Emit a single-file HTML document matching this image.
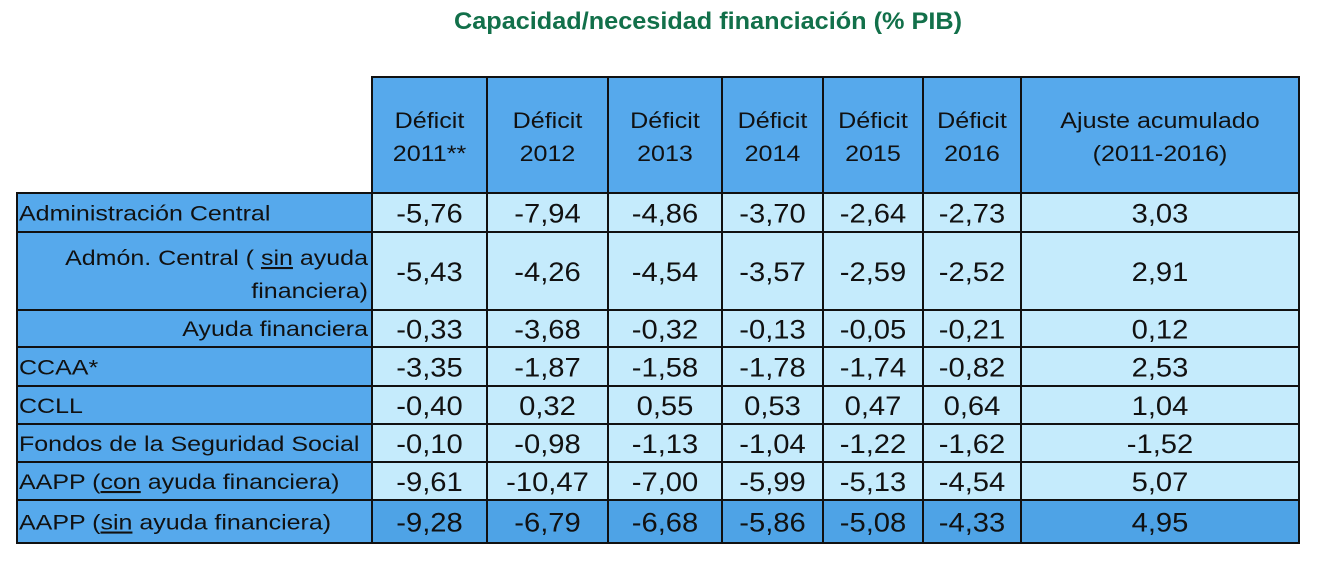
<!DOCTYPE html>
<html><head><meta charset="utf-8"><style>
html,body{margin:0;padding:0;background:#fff;width:1344px;height:562px;overflow:hidden}
svg{display:block}
</style></head><body>
<svg id="s" width="1344" height="562" xmlns="http://www.w3.org/2000/svg">
<text x="708" y="29" text-anchor="middle" font-family="Liberation Sans, sans-serif" font-weight="bold" font-size="24" fill="#12704a" textLength="508" lengthAdjust="spacingAndGlyphs">Capacidad/necesidad financiación (% PIB)</text>
</svg>
<script>
const headers=[["Déficit","2011**"],["Déficit","2012"],["Déficit","2013"],["Déficit","2014"],["Déficit","2015"],["Déficit","2016"],["Ajuste acumulado","(2011-2016)"]];
const rowLabels=[["Administración Central"],["Admón. Central ( ","sin"," ayuda","financiera)"],["Ayuda financiera"],["CCAA*"],["CCLL"],["Fondos de la Seguridad Social"],["AAPP (","con"," ayuda financiera)"],["AAPP (","sin"," ayuda financiera)"]];
const values=[
["-5,76","-7,94","-4,86","-3,70","-2,64","-2,73","3,03"],
["-5,43","-4,26","-4,54","-3,57","-2,59","-2,52","2,91"],
["-0,33","-3,68","-0,32","-0,13","-0,05","-0,21","0,12"],
["-3,35","-1,87","-1,58","-1,78","-1,74","-0,82","2,53"],
["-0,40","0,32","0,55","0,53","0,47","0,64","1,04"],
["-0,10","-0,98","-1,13","-1,04","-1,22","-1,62","-1,52"],
["-9,61","-10,47","-7,00","-5,99","-5,13","-4,54","5,07"],
["-9,28","-6,79","-6,68","-5,86","-5,08","-4,33","4,95"]];
const colX=[372,487,608,722,823,923,1021,1299];
const rowY=[77,193,232,310,347,386,424,462,500,543];
const NS="http://www.w3.org/2000/svg";
const s=document.getElementById('s');
function el(t,a,txt){const e=document.createElementNS(NS,t);for(const k in a)e.setAttribute(k,a[k]);if(txt!==undefined)e.textContent=txt;s.appendChild(e);return e;}
function stretch(t,f){const w=t.getComputedTextLength();t.setAttribute('textLength',(w*f).toFixed(1));t.setAttribute('lengthAdjust','spacingAndGlyphs');}
const BLUE="#56a9ec",LIGHT="#c5ebfc",DARK="#4ea3e6";
for(let c=0;c<7;c++){
 const r=el('rect',{x:colX[c],y:rowY[0],width:colX[c+1]-colX[c],height:rowY[1]-rowY[0],fill:BLUE,stroke:"#111","stroke-width":2});
 
 
 const cx=(colX[c]+colX[c+1])/2;
 for(let l=0;l<2;l++){
  const t=el('text',{x:cx,y:128+l*33,"text-anchor":"middle","font-family":"Liberation Sans, sans-serif","font-size":22,fill:"#111"},headers[c][l]);
  
  
  stretch(t,1.14);
 }
}
const LF=1.19;
for(let r=0;r<8;r++){
 const y0=rowY[r+1],y1=rowY[r+2],h=y1-y0;
 const lab=el('rect',{x:17,y:y0,width:colX[0]-17,height:h,fill:BLUE,stroke:"#111","stroke-width":2});
 
 
 const L=rowLabels[r];
 const fs={"font-family":"Liberation Sans, sans-serif","font-size":21,fill:"#111"};
 if(r===1){
  const t=el('text',Object.assign({x:368,y:y0+33,"text-anchor":"end"},fs));
  t.innerHTML='Admón. Central ( <tspan text-decoration="underline">sin</tspan> ayuda';
  
  
  stretch(t,LF);
  const t2=el('text',Object.assign({x:368,y:y0+66,"text-anchor":"end"},fs),"financiera)");
  
  
  stretch(t2,LF);
 } else if(r===2){
  const t=el('text',Object.assign({x:368,y:y0+26,"text-anchor":"end"},fs),L[0]);
  
  
  stretch(t,LF);
 } else {
  const t=el('text',Object.assign({x:19,y:y0+h/2+8},fs));
  if(L.length===3){t.innerHTML=L[0]+'<tspan text-decoration="underline">'+L[1]+'</tspan>'+L[2];}
  else t.textContent=L[0];
  
  
  stretch(t,LF);
 }
 for(let c=0;c<7;c++){
  const cell=el('rect',{x:colX[c],y:y0,width:colX[c+1]-colX[c],height:h,fill:r===7?DARK:LIGHT,stroke:"#111","stroke-width":2});
  
  
  const t=el('text',{x:(colX[c]+colX[c+1])/2,y:y0+h/2+10,"text-anchor":"middle","font-family":"Liberation Sans, sans-serif","font-size":27,fill:"#111"},values[r][c]);
  
  
  stretch(t,1.08);
 }
}
</script>
</body></html>
